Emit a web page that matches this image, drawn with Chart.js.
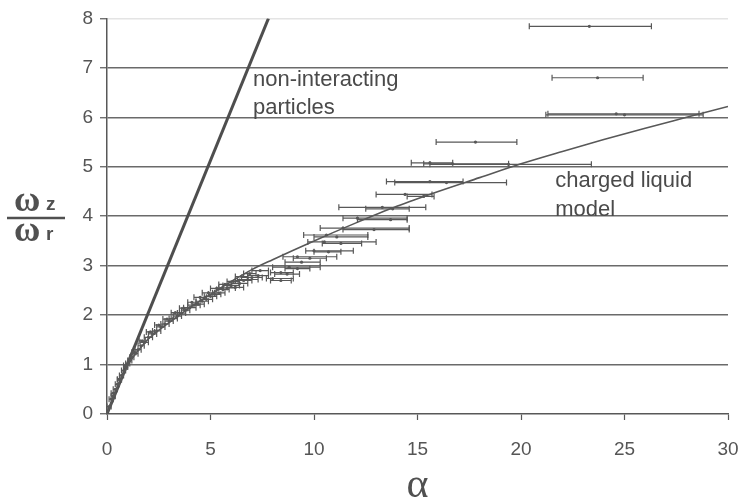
<!DOCTYPE html>
<html>
<head>
<meta charset="utf-8">
<script src="https://cdn.jsdelivr.net/npm/chart.js@4"></script>
<style>
  html, body { margin: 0; padding: 0; background: #fff; }
  #wrap { width: 742px; height: 503px; }
</style>
</head>
<body>
<div id="wrap"><canvas id="js--chart"></canvas></div>
<script>
// measured points: alpha (centre), omega ratio, alpha error bar ends
const alphaVals = [
  23.3, 23.7, 25.0, 24.6, 17.8,
  15.6, 16.7, 19.4,
  15.6, 16.4,
  14.4, 15.3,
  13.3, 13.8,
  12.1, 13.7,
  11.4, 12.9,
  10.6, 11.1,
  10.5, 11.3,
  10.0, 10.7,
  9.2, 9.8,
  9.4,
  8.8, 9.2,
  8.4, 8.7,
  8.0, 8.4,
  0.1, 0.2, 0.3, 0.4, 0.5, 0.6, 0.7, 0.8, 0.9, 1.0,
  1.1, 1.2, 1.35, 1.5, 1.65, 1.8, 2.0, 2.2, 2.4, 2.6,
  2.8, 3.0, 3.2, 3.4, 3.6, 3.8, 4.0, 4.2, 4.4, 4.6,
  4.8, 5.0, 5.2, 5.4, 5.6, 5.8, 6.0, 6.2, 6.4, 6.6,
  6.8, 7.0, 7.3,
  0.3, 0.6, 0.9, 1.3, 1.7, 2.1, 2.5, 2.9, 3.3, 3.7,
  4.1, 4.5, 4.9, 5.3, 5.7, 6.1, 6.5, 6.9, 7.4
];
const ratioVals = [
  7.84, 6.80, 6.05, 6.07, 5.50,
  5.08, 5.06, 5.05,
  4.70, 4.68,
  4.44, 4.40,
  4.18, 4.15,
  3.96, 3.93,
  3.76, 3.73,
  3.62, 3.58,
  3.48, 3.45,
  3.30, 3.28,
  3.18, 3.15,
  3.07,
  2.97, 2.94,
  2.86, 2.83,
  2.74, 2.70,
  0.15, 0.30, 0.42, 0.50, 0.60, 0.70, 0.78, 0.88, 0.95, 1.02,
  1.08, 1.15, 1.22, 1.30, 1.38, 1.45, 1.55, 1.62, 1.68, 1.76,
  1.82, 1.88, 1.93, 1.98, 2.04, 2.10, 2.15, 2.20, 2.22, 2.28,
  2.32, 2.38, 2.42, 2.45, 2.52, 2.55, 2.60, 2.56, 2.64, 2.70,
  2.72, 2.76, 2.80,
  0.36, 0.70, 0.98, 1.25, 1.48, 1.66, 1.80, 1.92, 2.05, 2.14,
  2.26, 2.36, 2.45, 2.54, 2.62, 2.68, 2.78, 2.84, 2.90
];
const alphaLow = [
  20.4, 21.5, 21.2, 21.3, 15.9,
  14.7, 15.3, 15.6,
  13.5, 13.9,
  13.0, 14.5,
  11.2, 12.5,
  11.4, 12.1,
  10.3, 11.4,
  9.5, 10.0,
  9.7, 10.4,
  9.6, 10.0,
  8.5, 9.0,
  8.6,
  8.0, 8.6,
  7.9, 8.1,
  7.7, 7.9,
  0.0, 0.1, 0.2, 0.3, 0.4, 0.5, 0.6, 0.7, 0.8, 0.9,
  1.0, 1.1, 1.2, 1.35, 1.5, 1.6, 1.8, 2.0, 2.2, 2.4,
  2.6, 2.8, 3.0, 3.2, 3.4, 3.6, 3.7, 3.9, 4.1, 4.3,
  4.5, 4.7, 4.9, 5.1, 5.3, 5.4, 5.6, 5.8, 6.0, 6.2,
  6.3, 6.5, 6.8,
  0.2, 0.5, 0.8, 1.2, 1.55, 1.9, 2.3, 2.7, 3.1, 3.5,
  3.9, 4.2, 4.6, 5.0, 5.4, 5.8, 6.2, 6.6, 7.0
];
const alphaHigh = [
  26.3, 25.9, 28.8, 28.6, 19.8,
  16.7, 19.4, 23.4,
  17.2, 19.3,
  15.7, 15.8,
  15.4, 14.6,
  14.5, 14.5,
  14.6, 14.6,
  12.6, 12.6,
  13.0, 12.3,
  11.9, 11.3,
  11.1, 10.6,
  10.3,
  10.3, 9.8,
  9.0, 9.3,
  9.0, 8.9,
  0.2, 0.3, 0.4, 0.5, 0.6, 0.7, 0.8, 0.9, 1.0, 1.1,
  1.2, 1.3, 1.5, 1.65, 1.8, 2.0, 2.2, 2.4, 2.6, 2.8,
  3.0, 3.2, 3.4, 3.6, 3.8, 4.0, 4.3, 4.5, 4.7, 4.9,
  5.1, 5.3, 5.5, 5.7, 5.9, 6.2, 6.4, 6.6, 6.8, 7.0,
  7.3, 7.5, 7.8,
  0.4, 0.7, 1.0, 1.4, 1.85, 2.3, 2.7, 3.1, 3.5, 3.9,
  4.3, 4.8, 5.2, 5.6, 6.0, 6.4, 6.8, 7.2, 7.8
];

// charged liquid model curve
const modelAlpha = [0, 0.5, 1, 1.5, 2, 3, 4, 5, 6, 7, 8, 10, 12, 14, 16, 18, 20, 22, 24, 26, 28, 30];
const modelRatio = [0, 0.55, 0.98, 1.28, 1.52, 1.85, 2.15, 2.42, 2.68, 2.92, 3.12, 3.5, 3.86, 4.2, 4.5, 4.78, 5.06, 5.31, 5.55, 5.78, 6.0, 6.22];

// non-interacting particles line
const freeAlpha = [0, 7.8];
const freeRatio = [0, 8];

const xTicks = [0, 5, 10, 15, 20, 25, 30];
const yTicks = [0, 1, 2, 3, 4, 5, 6, 7, 8];

const ink = "#585858";

function toPoints(xs, ys) {
  return xs.map(function (v, i) { return { x: v, y: ys[i] }; });
}

const errorBars = {
  id: "errorBars",
  afterDatasetsDraw(chart) {
    const ctx = chart.ctx;
    const x = chart.scales.x;
    const y = chart.scales.y;
    ctx.save();
    ctx.strokeStyle = ink;
    ctx.lineWidth = 1.2;
    for (let i = 0; i < alphaVals.length; i++) {
      const py = y.getPixelForValue(ratioVals[i]);
      const x0 = x.getPixelForValue(alphaLow[i]);
      const x1 = x.getPixelForValue(alphaHigh[i]);
      ctx.beginPath();
      ctx.moveTo(x0, py);
      ctx.lineTo(x1, py);
      ctx.moveTo(x0, py - 3);
      ctx.lineTo(x0, py + 3);
      ctx.moveTo(x1, py - 3);
      ctx.lineTo(x1, py + 3);
      ctx.stroke();
    }
    ctx.restore();
  }
};

const labelsPlugin = {
  id: "labelsPlugin",
  afterDraw(chart) {
    const ctx = chart.ctx;
    const x = chart.scales.x;
    const y = chart.scales.y;
    ctx.save();
    ctx.fillStyle = "#4a4a4a";
    ctx.textBaseline = "alphabetic";
    ctx.textAlign = "left";
    ctx.font = "22px 'Liberation Sans', Arial, sans-serif";
    ctx.fillText("non-interacting", x.getPixelForValue(7.05), y.getPixelForValue(6.63));
    ctx.fillText("particles", x.getPixelForValue(7.05), y.getPixelForValue(6.06));
    ctx.fillText("charged liquid", x.getPixelForValue(21.65), y.getPixelForValue(4.59));
    ctx.fillText("model", x.getPixelForValue(21.65), y.getPixelForValue(4.0));

    // x axis title
    ctx.fillStyle = "#505050";
    ctx.textAlign = "center";
    ctx.font = "42px 'Liberation Serif', 'Times New Roman', serif";
    ctx.fillText("\u03b1", (chart.chartArea.left + chart.chartArea.right) / 2, 497);

    // y axis title as a fraction
    ctx.textAlign = "left";
    ctx.font = "bold 36px 'Liberation Serif', 'Times New Roman', serif";
    ctx.fillText("\u03c9", 14, 211);
    ctx.fillText("\u03c9", 14, 241);
    ctx.font = "bold 19px 'Liberation Sans', Arial, sans-serif";
    ctx.fillText("z", 46, 210);
    ctx.fillText("r", 46, 240);
    ctx.strokeStyle = "#505050";
    ctx.lineWidth = 2.5;
    ctx.beginPath();
    ctx.moveTo(7, 218);
    ctx.lineTo(65, 218);
    ctx.stroke();
    ctx.restore();
  }
};

new Chart(document.getElementById("js--chart"), {
  type: "scatter",
  data: {
    datasets: [
      {
        label: "data",
        data: toPoints(alphaVals, ratioVals),
        pointRadius: 1.6,
        backgroundColor: ink,
        borderColor: ink,
        borderWidth: 0
      },
      {
        label: "charged liquid model",
        type: "line",
        data: toPoints(modelAlpha, modelRatio),
        borderColor: ink,
        borderWidth: 1.6,
        pointRadius: 0,
        cubicInterpolationMode: "monotone",
        fill: false
      },
      {
        label: "non-interacting particles",
        type: "line",
        data: toPoints(freeAlpha, freeRatio),
        borderColor: "#4e4e4e",
        borderWidth: 3,
        pointRadius: 0,
        fill: false
      }
    ]
  },
  options: {
    responsive: true,
    maintainAspectRatio: false,
    animation: false,
    events: [],
    layout: { padding: { top: 18, right: 14, left: 0, bottom: 0 } },
    plugins: {
      legend: { display: false },
      tooltip: { enabled: false }
    },
    scales: {
      x: {
        type: "linear",
        min: 0,
        max: 30,
        afterFit(scale) {
          scale.height = 89;
          scale.paddingLeft = 0;
          scale.paddingRight = 0;
        },
        afterBuildTicks(scale) { scale.ticks = xTicks.map(function (v) { return { value: v }; }); },
        grid: {
          drawOnChartArea: false,
          drawTicks: true,
          tickLength: 6,
          tickColor: ink,
          tickWidth: 1.2
        },
        border: { color: ink, width: 1.5 },
        ticks: {
          color: "#555",
          padding: 18,
          maxRotation: 0,
          font: { family: "'Liberation Sans', Arial, sans-serif", size: 19 }
        }
      },
      y: {
        type: "linear",
        min: 0,
        max: 8,
        afterFit(scale) { scale.width = 107; },
        afterBuildTicks(scale) { scale.ticks = yTicks.map(function (v) { return { value: v }; }); },
        grid: {
          color: function (c) {
            if (c.tick.value === 0) return "rgba(0,0,0,0)";
            if (c.tick.value === 8) return "#e4e4e4";
            return "#6a6a6a";
          },
          lineWidth: 1.5,
          drawTicks: true,
          tickLength: 7,
          tickColor: ink,
          tickWidth: 1.2
        },
        border: { color: ink, width: 1.5 },
        ticks: {
          color: "#555",
          padding: 7,
          font: { family: "'Liberation Sans', Arial, sans-serif", size: 19 }
        }
      }
    }
  },
  plugins: [errorBars, labelsPlugin]
});
</script>
</body>
</html>
